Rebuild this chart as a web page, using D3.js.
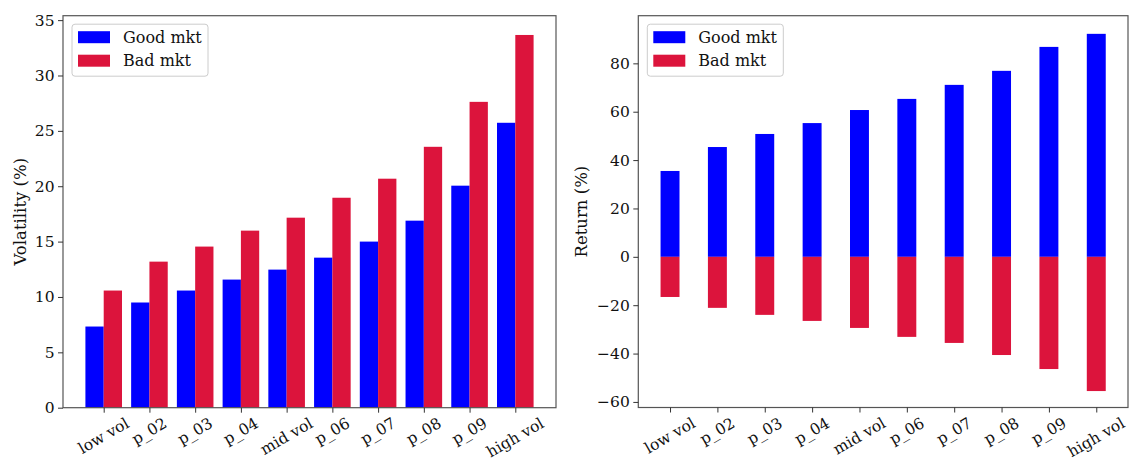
<!DOCTYPE html>
<html>
<head>
<meta charset="utf-8">
<script src="https://cdn.jsdelivr.net/npm/d3@7"></script>
<style>
  body { margin: 0; background: #fff; }
  svg { display: block; font-family: "DejaVu Serif", serif; }
</style>
</head>
<body>
<svg id="chart" width="1129" height="459"></svg>
<script>
// categories and series
const categories = ["low vol", "p_02", "p_03", "p_04", "mid vol", "p_06", "p_07", "p_08", "p_09", "high vol"];
const volGood = [7.33, 9.5, 10.58, 11.57, 12.47, 13.55, 15.0, 16.89, 20.05, 25.73];
const volBad = [10.58, 13.19, 14.55, 15.99, 17.16, 18.96, 20.68, 23.56, 27.62, 33.66];
const retGood = [35.5, 45.4, 50.8, 55.3, 60.7, 65.3, 71.1, 76.9, 86.8, 92.2];
const retBad = [-16.6, -21.1, -24.0, -26.5, -29.4, -33.1, -35.6, -40.6, -46.4, -55.5];
const volTicks = [0, 5, 10, 15, 20, 25, 30, 35];
const retTicks = [-60, -40, -20, 0, 20, 40, 60, 80];
const seriesNames = ["Good mkt", "Bad mkt"];
const colors = ["#0000ff", "#dc143c"];

const svg = d3.select("#chart");
const tickSize = 15.5;
const legendSize = 16;
const labelSize = 16.5;

function drawPanel(opts) {
    const { left, right, top, bottom, xDomain, yDomain, ticks, yLabel, yLabelX } = opts;
    const x = d3.scaleLinear().domain(xDomain).range([left, right]);
    const y = d3.scaleLinear().domain(yDomain).range([bottom, top]);
    const g = svg.append("g");

    // bars
    opts.bars(g, x, y);

    // frame
    g.append("rect")
        .attr("x", left).attr("y", top)
        .attr("width", right - left).attr("height", bottom - top)
        .attr("fill", "none").attr("stroke", "#555").attr("stroke-width", 1.2);

    // y axis
    const ya = g.append("g")
        .attr("transform", `translate(${left},0)`)
        .call(d3.axisLeft(y).tickValues(ticks).tickSize(5).tickPadding(3.5).tickFormat(d3.format("d")));
    ya.select(".domain").remove();
    ya.selectAll(".tick line").attr("stroke", "#333");
    ya.selectAll("text").attr("font-size", tickSize).attr("fill", "#111")
        .attr("font-family", "DejaVu Serif");

    // x axis with rotated labels
    const xa = g.append("g")
        .attr("transform", `translate(0,${bottom})`)
        .call(d3.axisBottom(x).tickValues(d3.range(categories.length)).tickSize(5).tickFormat(""));
    xa.select(".domain").remove();
    xa.selectAll(".tick line").attr("stroke", "#333");
    categories.forEach((c, i) => {
        const t = g.append("text")
            .attr("font-size", tickSize).attr("fill", "#111")
            .attr("text-anchor", "middle")
            .attr("dominant-baseline", "central")
            .text(c);
        const w = t.node().getComputedTextLength();
        const h = tickSize * 0.95;
        const a = Math.PI / 6;
        const bh = w * Math.sin(a) + h * Math.cos(a);
        t.attr("transform", `translate(${x(i)},${bottom + 8 + bh / 2}) rotate(-30)`);
    });

    // y label
    g.append("text")
        .attr("transform", `translate(${yLabelX},${(top + bottom) / 2}) rotate(-90)`)
        .attr("text-anchor", "middle")
        .attr("dominant-baseline", "central")
        .attr("font-size", labelSize).attr("fill", "#111")
        .text(yLabel);

    // legend
    const lg = g.append("g").attr("transform", `translate(${left + 9},${top + 8.5})`);
    lg.append("rect")
        .attr("width", 136).attr("height", 52).attr("rx", 3)
        .attr("fill", "#fff").attr("fill-opacity", 0.8)
        .attr("stroke", "#ccc").attr("stroke-width", 1);
    seriesNames.forEach((s, i) => {
        lg.append("rect")
            .attr("x", 6).attr("y", 7 + i * 23.5)
            .attr("width", 32).attr("height", 12)
            .attr("fill", colors[i]);
        lg.append("text")
            .attr("x", 51).attr("y", 18.5 + i * 23.5)
            .attr("font-size", legendSize).attr("fill", "#111")
            .text(s);
    });
}

// left panel: volatility, side-by-side bars
drawPanel({
    left: 63, right: 556, top: 15.7, bottom: 407.7,
    xDomain: [-0.89, 9.89], yDomain: [0, 35.4], ticks: volTicks,
    yLabel: "Volatility (%)", yLabelX: 20,
    bars: (g, x, y) => {
        [volGood, volBad].forEach((vals, s) => {
            g.append("g").selectAll("rect")
                .data(vals)
                .enter().append("rect")
                .attr("x", (d, i) => x(i - 0.4 + s * 0.4))
                .attr("width", (d, i) => x(i + s * 0.4) - x(i - 0.4 + s * 0.4))
                .attr("y", d => y(d))
                .attr("height", d => y(0) - y(d))
                .attr("fill", colors[s]);
        });
    }
});

// right panel: returns, stacked around zero
drawPanel({
    left: 638.3, right: 1128, top: 15.7, bottom: 407.5,
    xDomain: [-0.67, 9.67], yDomain: [-62.3, 99.7], ticks: retTicks,
    yLabel: "Return (%)", yLabelX: 581.5,
    bars: (g, x, y) => {
        [retGood, retBad].forEach((vals, s) => {
            g.append("g").selectAll("rect")
                .data(vals)
                .enter().append("rect")
                .attr("x", (d, i) => x(i - 0.2))
                .attr("width", (d, i) => x(i + 0.2) - x(i - 0.2))
                .attr("y", d => Math.min(y(d), y(0)))
                .attr("height", d => Math.abs(y(0) - y(d)))
                .attr("fill", colors[s]);
        });
    }
});
</script>
</body>
</html>
